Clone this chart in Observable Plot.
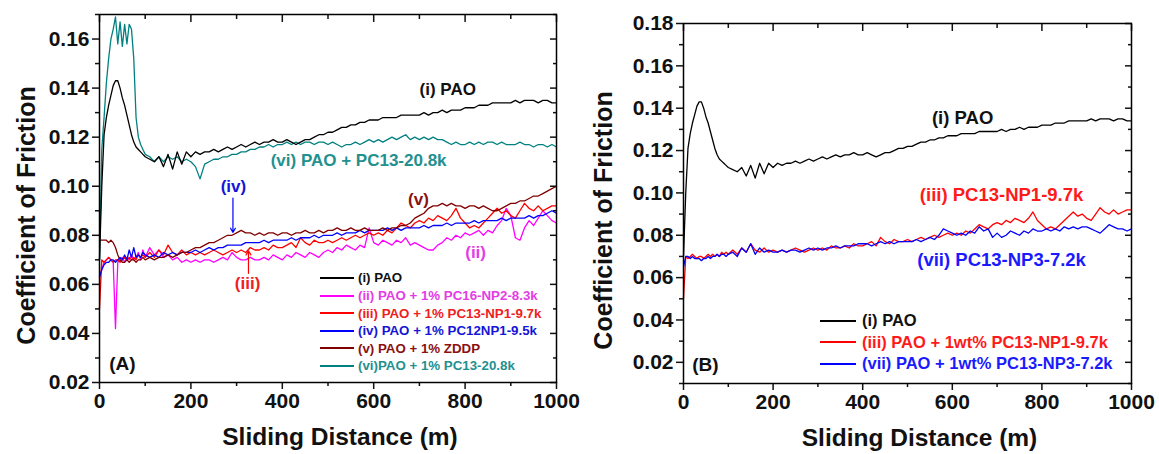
<!DOCTYPE html>
<html>
<head>
<meta charset="utf-8">
<script src="https://cdn.jsdelivr.net/npm/d3@7"></script>
<script src="https://cdn.jsdelivr.net/npm/@observablehq/plot@0.6"></script>
<style>
  body { margin: 0; background: #fff; }
  #wrap { position: relative; width: 1159px; height: 454px; background: #fff; overflow: hidden;
          font-family: "Liberation Sans", Arial, sans-serif; font-weight: bold; }
  .panel { position: absolute; top: 0; }
  .leg { position: absolute; display: flex; align-items: center; white-space: nowrap; }
  .leg .ln { display: inline-block; height: 2px; }
</style>
</head>
<body>
<div id="wrap">
  <div id="A" class="panel" style="left:0px"></div>
  <div id="B" class="panel" style="left:580px"></div>
</div>
<script>
// ---------- data ----------
const dist = [0,5,10,15,20,25,30,35,40,45,50,55,60,65,70,75,80,85,90,95,100,
  110,120,130,140,150,160,170,180,190,200,
  210,220,230,240,250,260,270,280,290,300,
  310,320,330,340,350,360,370,380,390,400,
  410,420,430,440,450,460,470,480,490,500,
  510,520,530,540,550,560,570,580,590,600,
  610,620,630,640,650,660,670,680,690,700,
  710,720,730,740,750,760,770,780,790,800,
  810,820,830,840,850,860,870,880,890,900,
  910,920,930,940,950,960,970,980,990,1000];

const cofPAO = [0.070,0.100,0.121,0.128,0.133,0.137,0.141,0.143,0.143,0.140,0.136,0.133,0.129,0.125,0.121,0.118,0.116,0.115,0.114,0.113,0.112,
  0.111,0.110,0.112,0.108,0.113,0.107,0.114,0.109,0.114,0.112,
  0.114,0.113,0.114,0.114,0.115,0.114,0.115,0.116,0.115,0.116,
  0.117,0.116,0.117,0.118,0.117,0.118,0.118,0.119,0.118,0.118,
  0.119,0.118,0.117,0.118,0.119,0.119,0.120,0.121,0.121,0.122,
  0.122,0.123,0.124,0.124,0.125,0.125,0.126,0.126,0.127,0.127,
  0.127,0.128,0.128,0.128,0.128,0.129,0.129,0.129,0.129,0.129,
  0.130,0.129,0.130,0.130,0.131,0.130,0.131,0.131,0.131,0.132,
  0.132,0.132,0.133,0.133,0.133,0.134,0.134,0.134,0.134,0.134,
  0.135,0.134,0.135,0.135,0.135,0.134,0.135,0.135,0.134,0.134];

const cofNP2 = [0.063,0.066,0.069,0.070,0.071,0.070,0.069,0.042,0.069,0.070,0.071,0.069,0.071,0.070,0.072,0.070,0.071,0.073,0.070,0.074,0.071,
  0.075,0.072,0.074,0.071,0.072,0.070,0.071,0.069,0.070,0.069,
  0.070,0.069,0.070,0.070,0.069,0.070,0.071,0.070,0.073,0.071,
  0.070,0.070,0.071,0.070,0.070,0.071,0.070,0.072,0.071,0.070,
  0.072,0.071,0.073,0.072,0.071,0.073,0.072,0.071,0.073,0.074,
  0.073,0.075,0.074,0.076,0.075,0.074,0.076,0.075,0.083,0.077,
  0.076,0.078,0.077,0.076,0.078,0.077,0.079,0.076,0.077,0.076,
  0.075,0.074,0.074,0.076,0.077,0.079,0.078,0.080,0.079,0.081,
  0.080,0.081,0.082,0.080,0.082,0.081,0.084,0.086,0.091,0.088,
  0.079,0.078,0.083,0.086,0.084,0.087,0.090,0.088,0.086,0.085];

const cofNP1 = [0.050,0.070,0.069,0.070,0.071,0.070,0.069,0.070,0.070,0.069,0.070,0.071,0.070,0.071,0.070,0.071,0.070,0.072,0.071,0.072,0.071,
  0.073,0.071,0.074,0.072,0.076,0.073,0.072,0.074,0.072,0.073,
  0.072,0.073,0.072,0.073,0.074,0.073,0.072,0.073,0.074,0.073,
  0.074,0.073,0.075,0.074,0.074,0.075,0.074,0.076,0.075,0.075,
  0.076,0.077,0.075,0.079,0.077,0.076,0.078,0.077,0.077,0.078,
  0.077,0.078,0.079,0.078,0.079,0.080,0.079,0.080,0.081,0.080,
  0.081,0.080,0.082,0.081,0.083,0.085,0.084,0.083,0.085,0.086,
  0.085,0.087,0.086,0.088,0.087,0.086,0.088,0.091,0.087,0.085,
  0.083,0.084,0.083,0.085,0.087,0.089,0.091,0.089,0.090,0.088,
  0.087,0.090,0.093,0.091,0.090,0.092,0.090,0.091,0.092,0.092];

const cofPC12 = [0.063,0.066,0.068,0.069,0.069,0.070,0.070,0.069,0.070,0.071,0.070,0.072,0.070,0.074,0.071,0.075,0.071,0.072,0.071,0.073,0.072,
  0.071,0.072,0.071,0.073,0.072,0.073,0.072,0.073,0.073,0.073,
  0.074,0.073,0.074,0.075,0.074,0.075,0.075,0.076,0.076,0.076,
  0.076,0.077,0.077,0.077,0.077,0.078,0.077,0.078,0.078,0.078,
  0.078,0.079,0.078,0.079,0.079,0.079,0.080,0.079,0.080,0.080,
  0.080,0.081,0.080,0.081,0.081,0.081,0.082,0.081,0.082,0.082,
  0.082,0.082,0.083,0.082,0.083,0.082,0.083,0.083,0.083,0.083,
  0.084,0.083,0.084,0.084,0.084,0.085,0.084,0.085,0.085,0.085,
  0.085,0.086,0.085,0.086,0.086,0.086,0.086,0.087,0.086,0.087,
  0.087,0.087,0.087,0.088,0.087,0.088,0.088,0.089,0.090,0.089];

const cofZDDP = [0.078,0.078,0.078,0.078,0.077,0.078,0.077,0.075,0.072,0.070,0.069,0.069,0.070,0.069,0.070,0.070,0.069,0.070,0.070,0.071,0.070,
  0.071,0.070,0.071,0.071,0.072,0.071,0.072,0.073,0.073,0.074,
  0.075,0.075,0.076,0.077,0.077,0.078,0.079,0.080,0.080,0.081,
  0.082,0.081,0.081,0.080,0.081,0.080,0.081,0.081,0.080,0.081,
  0.081,0.080,0.081,0.081,0.082,0.081,0.081,0.082,0.081,0.082,
  0.082,0.083,0.082,0.082,0.083,0.082,0.082,0.083,0.082,0.082,
  0.082,0.083,0.082,0.083,0.083,0.084,0.084,0.085,0.087,0.088,
  0.089,0.091,0.092,0.092,0.093,0.092,0.093,0.092,0.092,0.091,
  0.092,0.092,0.091,0.092,0.091,0.090,0.090,0.091,0.092,0.093,
  0.093,0.094,0.094,0.095,0.096,0.096,0.097,0.098,0.099,0.100];

const cofPC13 = [0.070,0.115,0.128,0.142,0.152,0.160,0.164,0.169,0.158,0.167,0.157,0.166,0.158,0.166,0.164,0.152,0.128,0.120,0.117,0.115,0.113,
  0.112,0.110,0.112,0.110,0.112,0.111,0.112,0.110,0.111,0.110,
  0.108,0.103,0.109,0.110,0.111,0.111,0.112,0.112,0.113,0.113,
  0.114,0.114,0.115,0.115,0.116,0.116,0.117,0.116,0.117,0.117,
  0.118,0.117,0.118,0.117,0.118,0.118,0.117,0.118,0.118,0.117,
  0.118,0.117,0.116,0.117,0.117,0.118,0.117,0.118,0.119,0.118,
  0.119,0.118,0.119,0.120,0.119,0.120,0.121,0.119,0.120,0.119,
  0.120,0.119,0.120,0.119,0.119,0.118,0.117,0.118,0.117,0.117,
  0.118,0.117,0.118,0.117,0.118,0.118,0.117,0.118,0.117,0.117,
  0.117,0.118,0.117,0.117,0.116,0.117,0.117,0.116,0.117,0.116];

const cofNP3 = [0.065,0.070,0.070,0.069,0.070,0.069,0.069,0.069,0.068,0.069,0.069,0.070,0.069,0.070,0.070,0.071,0.070,0.071,0.071,0.070,0.071,
  0.072,0.070,0.074,0.072,0.076,0.071,0.074,0.072,0.073,0.072,
  0.072,0.073,0.072,0.073,0.073,0.072,0.073,0.074,0.073,0.074,
  0.073,0.074,0.074,0.075,0.074,0.075,0.075,0.075,0.076,0.076,
  0.076,0.075,0.076,0.077,0.076,0.077,0.076,0.077,0.077,0.077,
  0.077,0.078,0.077,0.078,0.079,0.078,0.080,0.083,0.082,0.081,
  0.080,0.081,0.080,0.082,0.081,0.084,0.082,0.083,0.079,0.081,
  0.079,0.080,0.082,0.081,0.080,0.082,0.081,0.083,0.082,0.082,
  0.083,0.082,0.083,0.082,0.084,0.083,0.084,0.083,0.084,0.084,
  0.083,0.082,0.081,0.083,0.085,0.084,0.083,0.083,0.082,0.083];

// tick labels
const xTicks = [0,200,400,600,800,1000];
const xMinor = [100,300,500,700,900];
const yTicksA = [0.02,0.04,0.06,0.08,0.10,0.12,0.14,0.16];
const yMinorA = [0.03,0.05,0.07,0.09,0.11,0.13,0.15,0.17];
const yTicksB = [0.02,0.04,0.06,0.08,0.10,0.12,0.14,0.16,0.18];
const yMinorB = [0.01,0.03,0.05,0.07,0.09,0.11,0.13,0.15,0.17];

// legend / series labels
const legendA = ["(i) PAO","(ii) PAO + 1% PC16-NP2-8.3k","(iii) PAO + 1% PC13-NP1-9.7k","(iv) PAO + 1% PC12NP1-9.5k","(v) PAO + 1% ZDDP","(vi)PAO + 1% PC13-20.8k"];
const colorsA = ["#000000","#ff00ff","#ff0000","#0000ff","#800000","#008080"];
const legendTextA = ["#111","#e43ce4","#ee2020","#1515d8","#8b1010","#239090"];
const legendB = ["(i) PAO","(iii) PAO + 1wt% PC13-NP1-9.7k","(vii) PAO + 1wt% PC13-NP3-7.2k"];
const colorsB = ["#000000","#ff0000","#0000ff"];
const legendTextB = ["#111","#ff1a1a","#1a1aff"];

// annotations (position in data units)
const annotA = [
  {x: 762, y: 0.1395, text: "(i) PAO", fill: "#111"},
  {x: 567, y: 0.1105, text: "(vi) PAO + PC13-20.8k", fill: "#239090"},
  {x: 293, y: 0.1000, text: "(iv)", fill: "#1515d8"},
  {x: 698, y: 0.0944, text: "(v)", fill: "#8b1010"},
  {x: 324, y: 0.0602, text: "(iii)", fill: "#ee2020"},
  {x: 823, y: 0.0728, text: "(ii)", fill: "#e43ce4"},
  {x: 50, y: 0.0277, text: "(A)", fill: "#111"}
];
const arrowsA = [
  {x: 292, y1: 0.0952, y2: 0.0812, stroke: "#0000ff"},
  {x: 326, y1: 0.0645, y2: 0.0737, stroke: "#ff0000"}
];
const annotB = [
  {x: 623, y: 0.1352, text: "(i) PAO", fill: "#111", size: 18.5},
  {x: 710, y: 0.0988, text: "(iii) PC13-NP1-9.7k", fill: "#ff1a1a", size: 18.5},
  {x: 710, y: 0.0681, text: "(vii) PC13-NP3-7.2k", fill: "#1a1aff", size: 18.5},
  {x: 49, y: 0.0186, text: "(B)", fill: "#111", size: 19}
];

// ---------- helpers ----------
const table = (vals) => dist.map((d, i) => ({d, v: vals[i]}));
const fmt = d3.format(".2f");
const font = '"Liberation Sans", Arial, sans-serif';

function frameAxes(yMaj, yMin) {
  return [
    Plot.axisX(xTicks, {anchor: "bottom", tickSize: 7, tickPadding: 4, fontSize: 21, label: null, strokeWidth: 1.5, tickFormat: d => String(d)}),
    Plot.axisX(xMinor, {anchor: "bottom", tickSize: 4, label: null, strokeWidth: 1.5, tickFormat: () => ""}),
    Plot.axisX(xTicks, {anchor: "top", tickSize: -7, label: null, strokeWidth: 1.5, tickFormat: () => ""}),
    Plot.axisX(xMinor, {anchor: "top", tickSize: -4, label: null, strokeWidth: 1.5, tickFormat: () => ""}),
    Plot.axisY(yMaj, {anchor: "left", tickSize: 7, tickPadding: 3, fontSize: 21, label: null, strokeWidth: 1.5, tickFormat: fmt}),
    Plot.axisY(yMin, {anchor: "left", tickSize: 4, label: null, strokeWidth: 1.5, tickFormat: () => ""}),
    Plot.axisY(yMaj, {anchor: "right", tickSize: -7, label: null, strokeWidth: 1.5, tickFormat: () => ""}),
    Plot.axisY(yMin, {anchor: "right", tickSize: -4, label: null, strokeWidth: 1.5, tickFormat: () => ""}),
    Plot.frame({stroke: "#000", strokeWidth: 1.5})
  ];
}
function lineOf(vals, color) {
  return Plot.line(table(vals), {x: "d", y: "v", stroke: color, strokeWidth: 1.3, curve: "linear"});
}
function titles(dxX, dyY, dxY) {
  return [
    Plot.text(["Sliding Distance (m)"], {frameAnchor: "bottom", textAnchor: "middle", lineAnchor: "middle", dy: 55, dx: dxX, text: d => d, fontSize: 24.5, fontWeight: "bold", fill: "#111"}),
    Plot.text(["Coefficient of Friction"], {frameAnchor: "left", textAnchor: "middle", lineAnchor: "middle", rotate: -90, dx: dxY, dy: dyY, text: d => d, fontSize: 25, fontWeight: "bold", fill: "#111"})
  ];
}

// ---------- panel A ----------
const plotA = Plot.plot({
  width: 580, height: 454,
  marginLeft: 99, marginRight: 24, marginTop: 14, marginBottom: 72,
  style: {fontFamily: font, fontWeight: "bold", color: "#111", background: "transparent", overflow: "visible"},
  x: {domain: [0, 1000]},
  y: {domain: [0.02, 0.17]},
  marks: [
    lineOf(cofNP2, colorsA[1]),
    lineOf(cofNP1, colorsA[2]),
    lineOf(cofPC12, colorsA[3]),
    lineOf(cofZDDP, colorsA[4]),
    lineOf(cofPC13, colorsA[5]),
    lineOf(cofPAO, colorsA[0]),
    ...annotA.map(a => Plot.text([a], {x: "x", y: "y", text: "text", fill: a.fill, fontSize: a.text === "(A)" ? 19 : 17, fontWeight: "bold"})),
    ...arrowsA.map(a => Plot.arrow([a], {x1: "x", x2: "x", y1: "y1", y2: "y2", stroke: a.stroke, strokeWidth: 1.2, headLength: 6})),
    ...frameAxes(yTicksA, yMinorA),
    ...titles(12, 17, -73)
  ]
});
document.getElementById("A").appendChild(plotA);

// ---------- panel B ----------
const plotB = Plot.plot({
  width: 579, height: 454,
  marginLeft: 103, marginRight: 28, marginTop: 23, marginBottom: 71,
  style: {fontFamily: font, fontWeight: "bold", color: "#111", background: "transparent", overflow: "visible"},
  x: {domain: [0, 1000]},
  y: {domain: [0.01, 0.18]},
  marks: [
    lineOf(cofNP1, colorsB[1]),
    lineOf(cofNP3, colorsB[2]),
    lineOf(cofPAO, colorsB[0]),
    ...annotB.map(a => Plot.text([a], {x: "x", y: "y", text: "text", fill: a.fill, fontSize: a.size, fontWeight: "bold"})),
    ...frameAxes(yTicksB, yMinorB),
    ...titles(12, 17, -80)
  ]
});
document.getElementById("B").appendChild(plotB);

// ---------- legends ----------
function legend(labels, lineColors, textColors, left, top0, step, lineW, size, gap) {
  const wrap = document.getElementById("wrap");
  labels.forEach((lab, i) => {
    const row = document.createElement("div");
    row.className = "leg";
    row.style.left = left + "px";
    row.style.top = (top0 + i * step - size * 0.6) + "px";
    row.style.height = (size * 1.2) + "px";
    row.style.fontSize = size + "px";
    row.style.color = textColors[i];
    const ln = document.createElement("span");
    ln.className = "ln";
    ln.style.width = lineW + "px";
    ln.style.background = lineColors[i];
    ln.style.marginRight = gap + "px";
    row.appendChild(ln);
    row.appendChild(document.createTextNode(lab));
    wrap.appendChild(row);
  });
}
legend(legendA, colorsA, legendTextA, 320, 278, 17.6, 34, 13.3, 4);
legend(legendB, colorsB, legendTextB, 820, 321, 21.5, 36, 16.5, 6);
</script>
</body>
</html>
